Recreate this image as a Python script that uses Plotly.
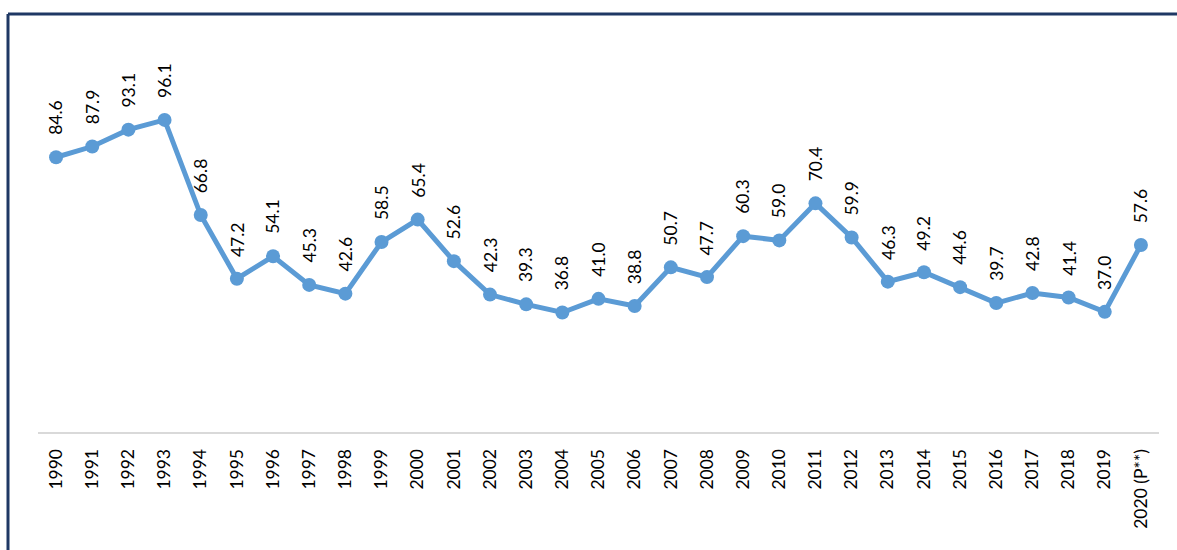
import plotly.graph_objects as go

years = ["1990", "1991", "1992", "1993", "1994", "1995", "1996", "1997", "1998", "1999",
         "2000", "2001", "2002", "2003", "2004", "2005", "2006", "2007", "2008", "2009",
         "2010", "2011", "2012", "2013", "2014", "2015", "2016", "2017", "2018", "2019",
         "2020 (P**)"]
values = [84.6, 87.9, 93.1, 96.1, 66.8, 47.2, 54.1, 45.3, 42.6, 58.5,
          65.4, 52.6, 42.3, 39.3, 36.8, 41.0, 38.8, 50.7, 47.7, 60.3,
          59.0, 70.4, 59.9, 46.3, 49.2, 44.6, 39.7, 42.8, 41.4, 37.0,
          57.6]

W, H = 1177, 550
L, R, T, B = 38, 18, 40, 118
pw, ph = W - L - R, H - T - B

FONT = "Lato"
fig = go.Figure()
fig.add_trace(go.Scatter(
    x=years, y=values, mode="lines+markers",
    line=dict(color="#5B9BD5", width=5),
    marker=dict(color="#5B9BD5", size=14),
    hoverinfo="x+y",
))

for i, v in enumerate(values):
    fig.add_annotation(x=i, y=v, text=f"{v:.1f}", textangle=-90,
                       showarrow=False, xanchor="center", yanchor="bottom",
                       yshift=20, font=dict(family=FONT, size=17.5, color="#000000"))

def px_x(p):
    return (p - L) / pw
def px_y(p):
    return (H - B - p) / ph

navy = "#1F3864"
fig.add_shape(type="line", xref="paper", yref="paper",
              x0=px_x(8), x1=px_x(W + 5), y0=px_y(14), y1=px_y(14),
              line=dict(color=navy, width=3))
fig.add_shape(type="line", xref="paper", yref="paper",
              x0=px_x(8), x1=px_x(8), y0=px_y(14), y1=px_y(H + 5),
              line=dict(color=navy, width=3))

fig.update_layout(
    width=W, height=H,
    margin=dict(l=L, r=R, t=T, b=B, autoexpand=False),
    paper_bgcolor="white", plot_bgcolor="white",
    showlegend=False,
    font=dict(family=FONT, size=17, color="#000000"),
    xaxis=dict(type="category", range=[-0.5, len(years) - 0.5],
               showgrid=False, zeroline=False,
               showline=True, linecolor="#D9D9D9", linewidth=2,
               ticks="", tickangle=-90, ticklabelstandoff=8,
               tickfont=dict(family=FONT, size=17.5, color="#000000")),
    yaxis=dict(range=[0, 120.7], visible=False, showgrid=False, zeroline=False),
)

fig.write_html("out.html", config={"displayModeBar": False},
               post_script="document.body.style.margin='0';")
